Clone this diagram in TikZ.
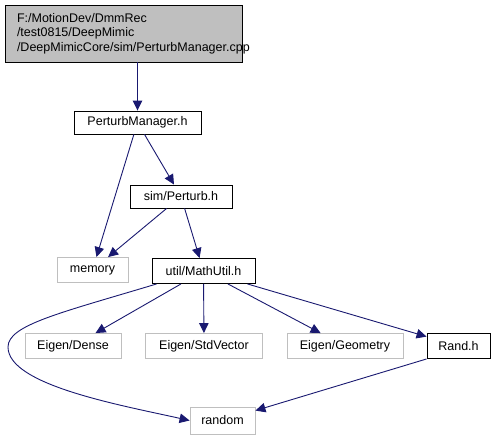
\documentclass[tikz,border=0pt]{standalone}
\usepackage{fontspec}
\setmainfont{Liberation Sans}
\usetikzlibrary{arrows.meta}
\definecolor{edgeblue}{HTML}{191970}
\definecolor{lightgrey}{HTML}{BFBFBF}
\begin{document}
\begin{tikzpicture}[
        x=1pt, y=-1pt,
        every node/.style={font=\fontsize{12.5}{14.5}\selectfont, inner sep=0pt, minimum height=25pt},
        file/.style={draw=black, line width=0.9pt},
        sysfile/.style={draw=lightgrey, line width=0.9pt},
        edge/.style={draw=edgeblue, line width=0.9pt, -{Triangle[length=10pt,width=9.5pt]}}
    ]
    \useasboundingbox (0,0) rectangle (495,440);

    % files
    \node[file, fill=lightgrey, minimum width=237pt, minimum height=57pt,
          text width=213pt, align=left] (cpp) at (123.5,33.5)
          {F:/MotionDev/DmmRec\\/test0815/DeepMimic\\/DeepMimicCore/sim/PerturbManager.cpp};
    \node[file, minimum width=127pt, minimum height=23pt] (pm) at (137.5,122.5) {PerturbManager.h};
    \node[file, minimum width=102pt, minimum height=23pt] (perturb) at (181,196.5) {sim/Perturb.h};
    \node[sysfile, minimum width=71pt] (memory) at (92.5,270) {memory};
    \node[file, minimum width=103pt] (mathutil) at (203.5,271) {util/MathUtil.h};
    \node[sysfile, minimum width=96pt] (dense) at (73,346) {Eigen/Dense};
    \node[sysfile, minimum width=117pt] (stdvector) at (204,346) {Eigen/StdVector};
    \node[sysfile, minimum width=116pt] (geometry) at (345,346) {Eigen/Geometry};
    \node[file, minimum width=63pt] (rand) at (458.5,346) {Rand.h};
    \node[sysfile, minimum width=65pt, minimum height=27pt] (random) at (222.5,420.5) {random};

    % includes
    \draw[edge] (cpp.south -| pm) -- (pm);
    \draw[edge] (pm) -- (memory);
    \draw[edge] (pm) -- (perturb);
    \draw[edge] (perturb) -- (memory);
    \draw[edge] (perturb) -- (mathutil);
    \draw[edge] ([xshift=5pt]mathutil.south west) .. controls (60,313) and (8,325) .. (8,347)
        .. controls (8,385) and (120,405) .. (random.west);
    \draw[edge] (mathutil) -- (dense);
    \draw[edge] (mathutil) -- (stdvector);
    \draw[edge] (mathutil) -- (geometry);
    \draw[edge] (mathutil) -- (rand);
    \draw[edge] (rand.south west) -- (random);
\end{tikzpicture}
\end{document}
